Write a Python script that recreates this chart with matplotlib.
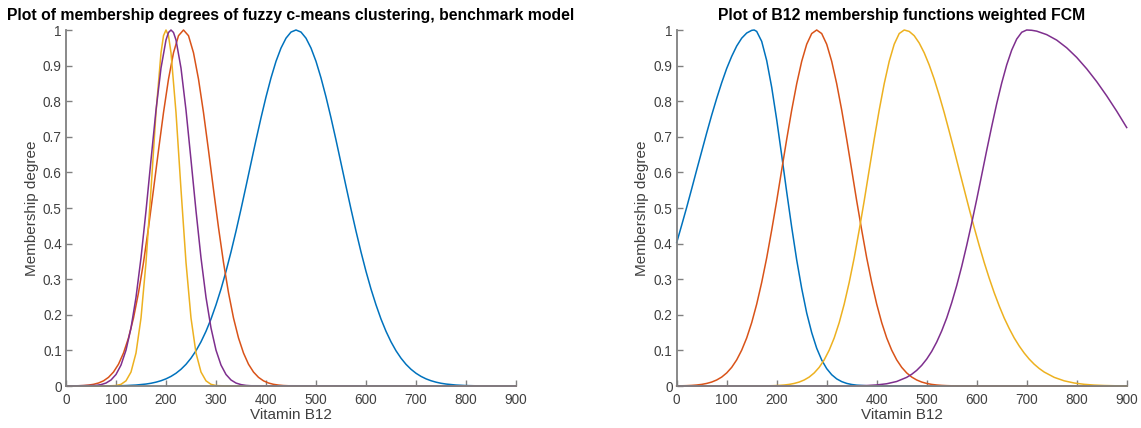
import matplotlib
matplotlib.use("Agg")
import matplotlib.pyplot as plt

# ---------------- data ----------------
left_title = "Plot of membership degrees of fuzzy c-means clustering, benchmark model"
right_title = "Plot of B12 membership functions weighted FCM"
x_label = "Vitamin B12"
y_label = "Membership degree"
x_ticks = [0, 100, 200, 300, 400, 500, 600, 700, 800, 900]
y_ticks = [0, 0.1, 0.2, 0.3, 0.4, 0.5, 0.6, 0.7, 0.8, 0.9, 1]
y_tick_labels = ["0", "0.1", "0.2", "0.3", "0.4", "0.5", "0.6", "0.7", "0.8", "0.9", "1"]

# Left panel (benchmark model)
L_blue_x = [0, 40, 60, 80, 100, 120, 140, 160, 170, 180, 190, 200, 210, 220, 230, 240, 250, 260,
            270, 280, 290, 300, 310, 320, 330, 340, 350, 360, 370, 380, 390, 400, 410, 420, 430,
            440, 450, 460, 470, 480, 490, 500, 510, 520, 530, 540, 550, 560, 570, 580, 590, 600,
            610, 620, 630, 640, 650, 660, 670, 680, 690, 700, 710, 720, 730, 740, 750, 760, 780,
            800, 820, 840, 860, 900]
L_blue_y = [0, 0, 0.0001, 0.00024, 0.00056, 0.00125, 0.00269, 0.0055, 0.0077, 0.0108, 0.0148,
            0.0201, 0.027, 0.0358, 0.047, 0.0609, 0.0782, 0.099, 0.1241, 0.1537, 0.1881, 0.228,
            0.2723, 0.322, 0.3765, 0.435, 0.4968, 0.561, 0.6261, 0.691, 0.7533, 0.812, 0.8654,
            0.912, 0.9493, 0.977, 0.9942, 1, 0.9942, 0.977, 0.9493, 0.912, 0.8654, 0.812, 0.7533,
            0.691, 0.6261, 0.561, 0.4968, 0.435, 0.3765, 0.322, 0.2723, 0.228, 0.1881, 0.1537,
            0.1241, 0.099, 0.0782, 0.0609, 0.047, 0.0358, 0.027, 0.0201, 0.0148, 0.0108, 0.0077,
            0.0055, 0.00269, 0.00125, 0.00056, 0.00024, 0.0001, 0]

L_orange_x = [0, 25, 35, 45, 55, 65, 75, 85, 95, 105, 115, 125, 135, 145, 155, 165, 175, 185,
              195, 205, 215, 225, 235, 245, 255, 265, 275, 285, 295, 305, 315, 325, 335, 345,
              355, 365, 375, 385, 395, 405, 415, 425, 435, 445, 900]
L_orange_y = [0, 0.0007, 0.0013, 0.0026, 0.0047, 0.0084, 0.0145, 0.0243, 0.0392, 0.0612,
              0.0926, 0.135, 0.191, 0.262, 0.347, 0.445, 0.552, 0.662, 0.768, 0.862, 0.936,
              0.984, 1, 0.984, 0.936, 0.862, 0.768, 0.662, 0.552, 0.445, 0.347, 0.262, 0.191,
              0.135, 0.0926, 0.0612, 0.0392, 0.0243, 0.0145, 0.0084, 0.0047, 0.0026, 0.0013,
              0.0007, 0]

L_yellow_x = [0, 80, 100, 110, 120, 130, 140, 150, 160, 170, 180, 190, 195, 200, 205, 210, 220,
              230, 240, 250, 260, 270, 280, 290, 300, 320, 900]
L_yellow_y = [0, 0.0001, 0.0013, 0.0047, 0.0145, 0.0392, 0.0926, 0.191, 0.347, 0.552, 0.768,
              0.936, 0.984, 1, 0.984, 0.936, 0.768, 0.552, 0.347, 0.191, 0.0926, 0.0392, 0.0145,
              0.0047, 0.0013, 0.0001, 0]

L_purple_x = [0, 60, 70, 80, 90, 100, 110, 120, 130, 140, 150, 160, 170, 180, 190, 200, 205, 210,
              215, 220, 230, 240, 250, 260, 270, 280, 290, 300, 310, 320, 330, 340, 350, 360,
              370, 900]
L_purple_y = [0, 0.0017, 0.0039, 0.0083, 0.0169, 0.0324, 0.0588, 0.1007, 0.163, 0.249, 0.36,
              0.492, 0.635, 0.775, 0.893, 0.972, 0.993, 1, 0.993, 0.972, 0.893, 0.775, 0.635,
              0.492, 0.36, 0.249, 0.163, 0.1007, 0.0588, 0.0324, 0.0169, 0.0083, 0.0039,
              0.0017, 0.0007, 0]

# Right panel (weighted FCM)
R_blue_x = [0, 10, 20, 30, 40, 50, 60, 70, 80, 90, 100, 110, 120, 130, 140, 150, 155, 160, 170,
            180, 190, 200, 210, 220, 230, 240, 250, 260, 270, 280, 290, 300, 310, 320, 330, 340,
            350, 360, 380, 400, 900]
R_blue_y = [0.403, 0.452, 0.502, 0.554, 0.607, 0.659, 0.711, 0.761, 0.808, 0.852, 0.892, 0.926,
            0.955, 0.977, 0.9915, 0.999, 1, 0.996, 0.968, 0.914, 0.839, 0.748, 0.648, 0.545,
            0.446, 0.354, 0.274, 0.205, 0.15, 0.106, 0.073, 0.0488, 0.0317, 0.02, 0.0123,
            0.0073, 0.00425, 0.0024, 0.0007, 0.0002, 0]

R_orange_x = [0, 10, 20, 30, 40, 50, 60, 70, 80, 90, 100, 110, 120, 130, 140, 150, 160, 170, 180,
              190, 200, 210, 220, 230, 240, 250, 260, 270, 280, 290, 300, 310, 320, 330, 340,
              350, 360, 370, 380, 390, 400, 410, 420, 430, 440, 450, 460, 470, 480, 490, 500,
              510, 520, 530, 540, 550, 560, 580, 900]
R_orange_y = [0.0003, 0.0006, 0.001, 0.0017, 0.0028, 0.0045, 0.0072, 0.0111, 0.0169, 0.0251,
              0.0367, 0.0524, 0.0734, 0.1007, 0.135, 0.178, 0.23, 0.291, 0.36, 0.438, 0.52,
              0.607, 0.693, 0.775, 0.849, 0.912, 0.96, 0.99, 1, 0.99, 0.96, 0.912, 0.849, 0.775,
              0.693, 0.607, 0.52, 0.438, 0.36, 0.291, 0.23, 0.178, 0.135, 0.1007, 0.0734,
              0.0524, 0.0367, 0.0251, 0.0169, 0.0111, 0.0072, 0.0045, 0.0028, 0.0017, 0.001,
              0.0006, 0.0003, 0.0001, 0]

R_yellow_x = [0, 155, 165, 175, 185, 195, 205, 215, 225, 235, 245, 255, 265, 275, 285, 295, 305,
              315, 325, 335, 345, 355, 365, 375, 385, 395, 405, 415, 425, 435, 445, 455, 465,
              475, 485, 495, 505, 515, 525, 535, 545, 555, 565, 575, 585, 595, 605, 615, 625,
              635, 645, 655, 665, 675, 685, 695, 705, 715, 725, 735, 755, 775, 795, 815, 835,
              855, 875, 895, 900]
R_yellow_y = [0, 0.0001, 0.0002, 0.0003, 0.0006, 0.001, 0.0017, 0.0028, 0.0045, 0.0072, 0.0111,
              0.0169, 0.0251, 0.0367, 0.0524, 0.0734, 0.1007, 0.135, 0.178, 0.23, 0.291, 0.36,
              0.438, 0.52, 0.607, 0.693, 0.775, 0.849, 0.912, 0.96, 0.99, 1, 0.996, 0.984,
              0.9635, 0.936, 0.9018, 0.862, 0.8167, 0.768, 0.7155, 0.662, 0.6065, 0.552, 0.4974,
              0.445, 0.3946, 0.347, 0.3029, 0.262, 0.225, 0.191, 0.1616, 0.135, 0.1124, 0.0926,
              0.0756, 0.0612, 0.0492, 0.0392, 0.0243, 0.0145, 0.0084, 0.0047, 0.00256, 0.00134,
              0.00068, 0.00034, 0.00028]

R_purple_x = [0, 320, 340, 360, 380, 400, 420, 440, 460, 470, 480, 490, 500, 510, 520, 530, 540,
              550, 560, 570, 580, 590, 600, 610, 620, 630, 640, 650, 660, 670, 680, 690, 700, 710,
              720, 740, 760, 780, 800, 820, 840, 860, 880, 900]
R_purple_y = [0, 0.0001, 0.0002, 0.0006, 0.0013, 0.003, 0.0063, 0.0127, 0.0243, 0.0329, 0.0439,
              0.058, 0.0756, 0.0972, 0.1234, 0.1547, 0.191, 0.2339, 0.282, 0.3358, 0.395, 0.4578,
              0.524, 0.5927, 0.662, 0.7288, 0.793, 0.851, 0.902, 0.9435, 0.9745, 0.9936, 1,
              0.9992, 0.9968, 0.987, 0.9716, 0.95, 0.923, 0.891, 0.855, 0.815, 0.772, 0.726]

# ---------------- style ----------------
C_BLUE = "#0072BD"
C_ORANGE = "#D95319"
C_YELLOW = "#EDB120"
C_PURPLE = "#7E2F8E"
AX_COLOR = "#808080"
TXT_COLOR = "#404040"

plt.rcParams["font.family"] = ["Liberation Sans", "DejaVu Sans"]

fig = plt.figure(figsize=(11.41, 4.28), dpi=100)
ax1 = fig.add_axes([66 / 1141, 42 / 428, 450 / 1141, 356 / 428])
ax2 = fig.add_axes([676.7 / 1141, 42 / 428, 450 / 1141, 356 / 428])

panels = [
    (ax1, left_title, [(L_blue_x, L_blue_y, C_BLUE), (L_orange_x, L_orange_y, C_ORANGE),
                       (L_yellow_x, L_yellow_y, C_YELLOW), (L_purple_x, L_purple_y, C_PURPLE)]),
    (ax2, right_title, [(R_blue_x, R_blue_y, C_BLUE), (R_orange_x, R_orange_y, C_ORANGE),
                        (R_yellow_x, R_yellow_y, C_YELLOW), (R_purple_x, R_purple_y, C_PURPLE)]),
]

for ax, title, series in panels:
    for xs, ys, col in series:
        ax.plot(xs, ys, color=col, lw=1.1, clip_on=False, solid_joinstyle="round")
    ax.set_xlim(0, 900)
    ax.set_ylim(0, 1)
    ax.set_xticks(x_ticks)
    ax.set_xticklabels([str(t) for t in x_ticks])
    ax.set_yticks(y_ticks)
    ax.set_yticklabels(y_tick_labels)
    for s in ("top", "right"):
        ax.spines[s].set_visible(False)
    for s in ("left", "bottom"):
        ax.spines[s].set_color(AX_COLOR)
        ax.spines[s].set_linewidth(1.3)
    ax.tick_params(direction="in", length=4, width=1, color=AX_COLOR,
                   labelsize=9.8, labelcolor=TXT_COLOR)
    ax.tick_params(axis="x", pad=5)
    ax.tick_params(axis="y", pad=3)
    ax.set_xlabel(x_label, fontsize=11, color=TXT_COLOR, labelpad=1)
    ax.set_ylabel(y_label, fontsize=11, color=TXT_COLOR, labelpad=3)
    ax.set_title(title, fontsize=11.3, fontweight="bold", color="black", pad=7)

fig.savefig("out.png", dpi=100)
